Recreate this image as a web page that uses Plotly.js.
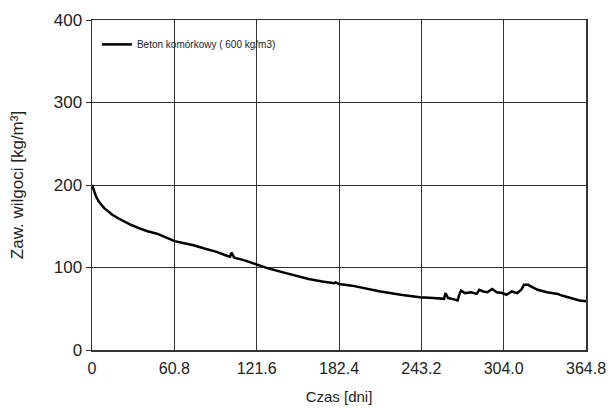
<!DOCTYPE html>
<html><head><meta charset="utf-8">
<script src="https://cdn.plot.ly/plotly-3.0.1.min.js"></script>
<style>body{margin:0;background:#fff}</style>
</head><body>
<div id="chart" style="width:610px;height:410px"></div>
<script>
const days = [0, 1, 3, 5, 7, 9, 12, 15, 19, 24, 29, 35, 41, 48, 54, 61, 68, 75, 83, 92, 100, 102, 103, 105, 112, 122, 130, 139, 150, 160, 170, 179, 180, 182.4, 192, 203, 213, 228, 242, 252, 259, 260, 261, 263, 266, 270, 271, 272.5, 275.5, 280, 284, 286, 289, 292, 295.5, 299, 303, 306, 310, 314, 317, 319, 322, 326, 329, 336, 340, 344, 347, 351, 355, 360, 364.8];
const moisture = [200, 195, 186, 180, 176, 172, 168, 164, 160, 155.5, 151.5, 147.5, 144, 141, 136.5, 132, 129.5, 127, 123, 119, 114, 113, 118, 112, 109, 103, 99, 95, 90, 86, 83, 81, 82, 80, 78, 74, 71, 67, 64, 63, 62, 62, 69, 63, 62, 60, 66, 72, 69, 70, 68, 73, 71, 70, 74, 70, 69, 67, 71, 69, 73, 79, 79, 76, 73, 70, 69, 68, 66, 64, 62, 60, 59];
const xTicks = [0, 60.8, 121.6, 182.4, 243.2, 304.0, 364.8];
const xTickText = ["0", "60.8", "121.6", "182.4", "243.2", "304.0", "364.8"];
const yTicks = [0, 100, 200, 300, 400];
const seriesName = "Beton komórkowy ( 600 kg/m3)";

const font = "Liberation Sans, Arial, sans-serif";
Plotly.newPlot("chart", [{
  x: days, y: moisture, type: "scatter", mode: "lines",
  name: seriesName, line: {color: "#000", width: 2.5}
}], {
  width: 610, height: 410,
  margin: {l: 92, r: 24, t: 20, b: 60},
  paper_bgcolor: "#fff", plot_bgcolor: "#fff",
  showlegend: true,
  legend: {x: 0.01, y: 0.97, xanchor: "left", yanchor: "top", bgcolor: "rgba(0,0,0,0)",
    font: {family: font, size: 10, color: "#222"}},
  xaxis: {range: [0, 364.8], tickvals: xTicks, ticktext: xTickText, showgrid: true,
    gridcolor: "#333", gridwidth: 1, showline: true, linecolor: "#333", linewidth: 1.5, mirror: true,
    zeroline: false, ticks: "outside", ticklen: 3, tickcolor: "rgba(0,0,0,0)",
    tickfont: {family: font, size: 16, color: "#222"},
    title: {text: "Czas [dni]", font: {family: font, size: 15, color: "#222"}, standoff: 16}},
  yaxis: {range: [0, 400], tickvals: yTicks, showgrid: true,
    gridcolor: "#333", gridwidth: 1, showline: true, linecolor: "#333", linewidth: 1.5, mirror: true,
    zeroline: false, ticks: "outside", ticklen: 5, tickcolor: "#333",
    tickfont: {family: font, size: 17, color: "#222"},
    title: {text: "Zaw. wilgoci [kg/m³]", font: {family: font, size: 17, color: "#222"}, standoff: 26}}
}, {displayModeBar: false, staticPlot: true});
</script>
</body></html>
